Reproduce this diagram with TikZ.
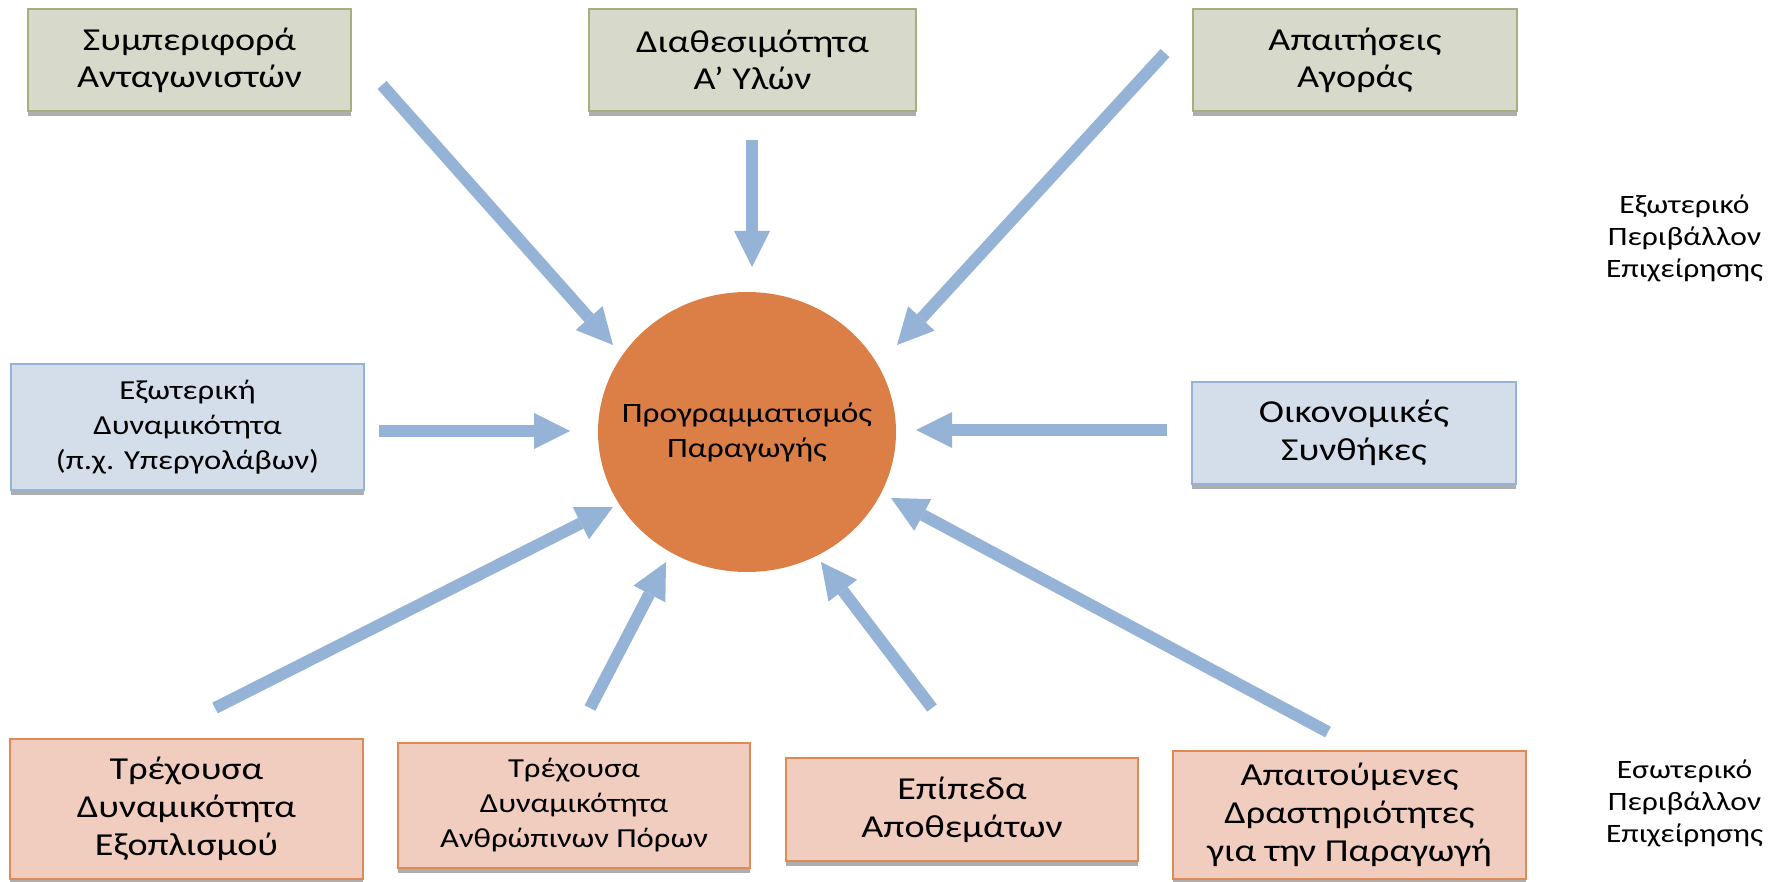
\documentclass[tikz,border=0pt]{standalone}
\usepackage{fontspec}
\setmainfont{Carlito}[FakeStretch=1.19]
\usetikzlibrary{arrows.meta,shapes.geometric,shadows}
\definecolor{topfill}{HTML}{D7D9CA}
\definecolor{topdraw}{HTML}{A5AF7F}
\definecolor{bluefill}{HTML}{D3DEEA}
\definecolor{bluedraw}{HTML}{95B3D7}
\definecolor{redfill}{HTML}{F0CDBF}
\definecolor{reddraw}{HTML}{DF8A55}
\definecolor{circfill}{HTML}{DC7F47}
\definecolor{arrowcol}{HTML}{95B3D7}
\tikzset{
  box/.style={rectangle, line width=2.5pt, inner sep=0pt, align=center,
    drop shadow={shadow xshift=0pt, shadow yshift=-5pt, opacity=0.45, fill=black!70}},
  topbox/.style={box, fill=topfill, draw=topdraw, minimum height=102pt,
    font=\fontsize{32}{37}\selectfont},
  bluebox/.style={box, fill=bluefill, draw=bluedraw},
  redbox/.style={box, fill=redfill, draw=reddraw},
  bigtext/.style={font=\fontsize{32}{38}\selectfont},
  smalltext/.style={font=\fontsize{27.5}{35}\selectfont},
  circtext/.style={font=\fontsize{28}{35}\selectfont},
  sidelabel/.style={align=center, font=\fontsize{26.5}{32}\selectfont},
  flow/.style={draw=arrowcol, line width=12pt,
    -{Triangle[width=36pt,length=36pt,line width=0pt]}},
}
\begin{document}
\begin{tikzpicture}[x=1pt,y=-1pt]
\useasboundingbox (0,0) rectangle (1779,882);
% top boxes
\node[topbox, minimum width=323pt] (b1) at (189.5,60) {Συμπεριφορά\\Ανταγωνιστών};
\node[topbox, minimum width=327pt] (b2) at (752.5,60) {Διαθεσιμότητα\\Α’ Υλών};
\node[topbox, minimum width=324pt] (b3) at (1355,60) {Απαιτήσεις\\Αγοράς};
% middle
\node[bluebox, smalltext, minimum width=353pt, minimum height=126pt] (b4) at (187.5,427)
  {Εξωτερική\\Δυναμικότητα\\(π.χ. Υπεργολάβων)};
\node[bluebox, bigtext, minimum width=324pt, minimum height=102pt] (b5) at (1354,433)
  {Οικονομικές\\Συνθήκες};
\node[ellipse, fill=circfill, minimum width=298pt, minimum height=280pt, inner sep=0pt]
  (c) at (747,432) {};
\node[align=center, circtext, inner sep=0pt] (ctext) at (c.center) {Προγραμματισμός\\Παραγωγής};
% bottom
\node[redbox, bigtext, minimum width=353pt, minimum height=140pt] (b6) at (186.5,809)
  {Τρέχουσα\\Δυναμικότητα\\Εξοπλισμού};
\node[redbox, smalltext, minimum width=352pt, minimum height=125pt] (b7) at (574,805.5)
  {Τρέχουσα\\Δυναμικότητα\\Ανθρώπινων Πόρων};
\node[redbox, bigtext, minimum width=352pt, minimum height=103pt] (b8) at (962,809.5)
  {Επίπεδα\\Αποθεμάτων};
\node[redbox, bigtext, minimum width=353pt, minimum height=128pt] (b9) at (1349.5,815)
  {Απαιτούμενες\\Δραστηριότητες\\για την Παραγωγή};
% side labels
\node[sidelabel] (ext) at (1684.5,238) {Εξωτερικό\\Περιβάλλον\\Επιχείρησης};
\node[sidelabel] (int) at (1684.5,803) {Εσωτερικό\\Περιβάλλον\\Επιχείρησης};
% arrow end points
\coordinate (a1s) at (382,85);   \coordinate (a1e) at (613,345);
\coordinate (a2s) at (752,140);  \coordinate (a2e) at (752,267);
\coordinate (a3s) at (1165,53);  \coordinate (a3e) at (897,345);
\coordinate (a4s) at (379,431);  \coordinate (a4e) at (570,431);
\coordinate (a5s) at (1167,430); \coordinate (a5e) at (916,430);
\coordinate (a6s) at (215,708);  \coordinate (a6e) at (613,507);
\coordinate (a7s) at (590,708);  \coordinate (a7e) at (666,562);
\coordinate (a8s) at (932,708);  \coordinate (a8e) at (821,562);
\coordinate (a9s) at (1328,732); \coordinate (a9e) at (891,498);
\foreach \i in {1,...,9} { \draw[flow] (a\i s) -- (a\i e); }
\end{tikzpicture}
\end{document}
